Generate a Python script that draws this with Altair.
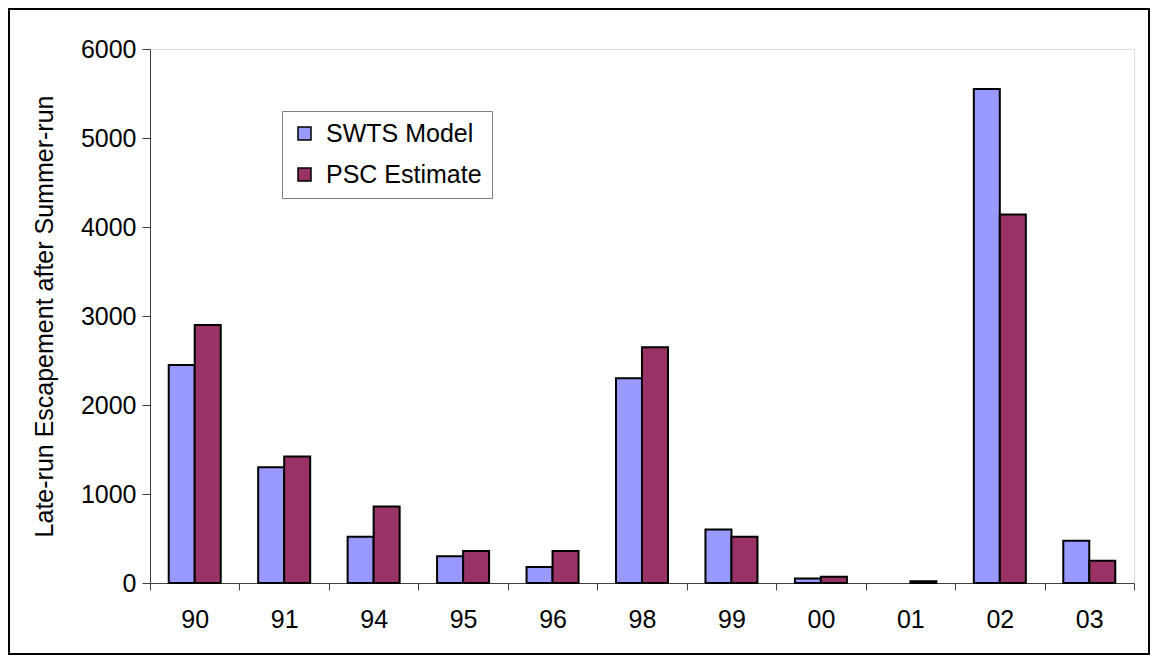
import altair as alt
import pandas as pd

years = ["90", "91", "94", "95", "96", "98", "99", "00", "01", "02", "03"]
swts = [2450, 1300, 520, 300, 180, 2300, 600, 50, None, 5550, 475]
psc = [2900, 1420, 860, 360, 360, 2650, 520, 70, 20, 4140, 250]
series = ["SWTS Model", "PSC Estimate"]
colors = ["#9999FF", "#993366"]
y_ticks = [0, 1000, 2000, 3000, 4000, 5000, 6000]

rows = []
for i, yr in enumerate(years):
    rows.append({"year": yr, "series": series[0], "value": swts[i]})
    rows.append({"year": yr, "series": series[1], "value": psc[i]})
df = pd.DataFrame(rows)

FONT = "Liberation Sans"
W, H = 984, 534

bars = alt.Chart(df).mark_bar(stroke="black", strokeWidth=2).encode(
    x=alt.X("year:N", sort=years,
            scale=alt.Scale(paddingInner=0, paddingOuter=0),
            axis=alt.Axis(title=None, labelAngle=0, tickBand="extent",
                          labelFontSize=25, labelFont=FONT, labelColor="black",
                          tickSize=7, tickColor="#404040", domainColor="#404040",
                          labelPadding=17, grid=False)),
    xOffset=alt.XOffset("series:N", sort=series,
                        scale=alt.Scale(paddingInner=0, paddingOuter=0.72)),
    y=alt.Y("value:Q", scale=alt.Scale(domain=[0, 6000], nice=False),
            axis=alt.Axis(title="Late-run Escapement after Summer-run",
                          values=y_ticks, format="d", grid=False, titleFontSize=25,
                          titleFont=FONT, titleFontWeight="normal",
                          titleColor="black", titlePadding=23,
                          labelFontSize=25, labelFont=FONT, labelColor="black",
                          tickSize=8, tickColor="#404040", domainColor="#404040",
                          labelPadding=6)),
    color=alt.Color("series:N", sort=series,
                    scale=alt.Scale(domain=series, range=colors),
                    legend=alt.Legend(title=None, orient="none",
                                      legendX=132, legendY=62,
                                      fillColor="white", strokeColor="#808080",
                                      padding=10, symbolType="square",
                                      symbolSize=169, symbolStrokeColor="black",
                                      symbolStrokeWidth=1.5, symbolOpacity=1,
                                      labelFontSize=25, labelFont=FONT,
                                      labelColor="black", labelOffset=9,
                                      rowPadding=15)),
)

border = alt.Chart(pd.DataFrame({"a": [0]})).mark_rect(
    filled=False, stroke="black", strokeWidth=2
).encode(
    x=alt.value(-141), x2=alt.value(999),
    y=alt.value(-40), y2=alt.value(605),
)

chart = alt.layer(bars, border).properties(
    width=W, height=H,
    autosize=alt.AutoSizeParams(type="none"),
    padding={"left": 142, "top": 41, "right": 16, "bottom": 72},
).configure_view(stroke="#707070", strokeWidth=1.2).configure(background="white")

chart.save("out.html", embed_options={"renderer": "svg", "actions": False})
